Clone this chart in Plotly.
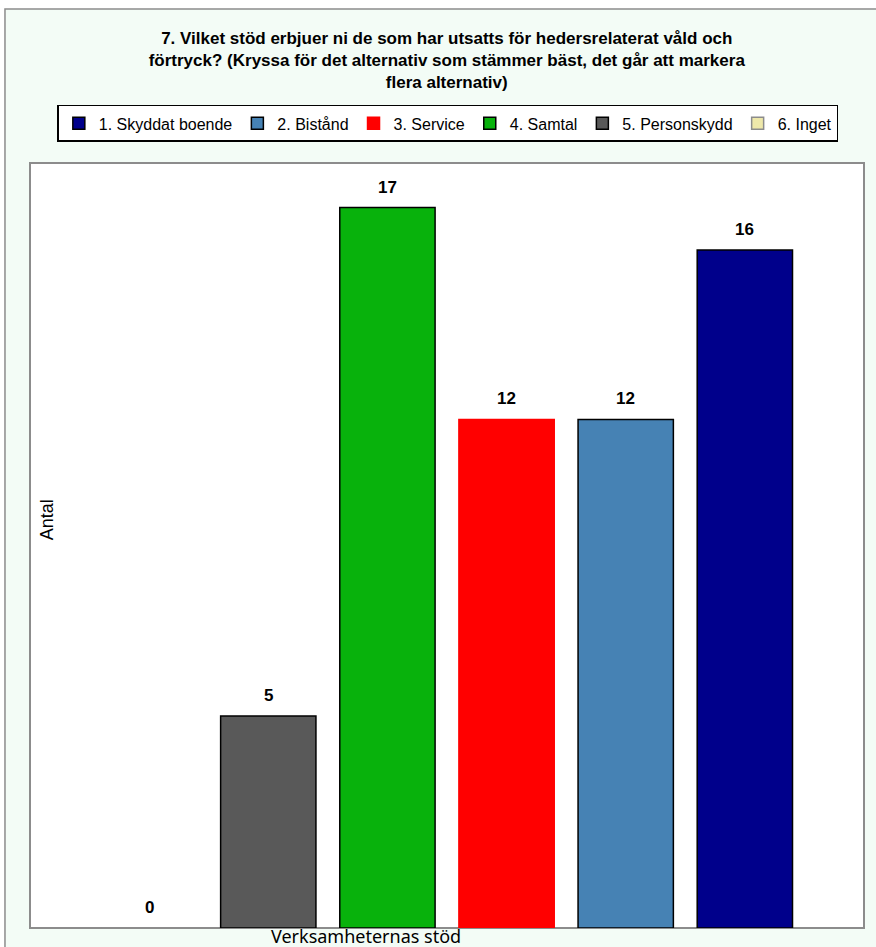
import plotly.graph_objects as go

# legend order (1..6) and bar order on the axis (6..1)
names = ["1. Skyddat boende", "2. Bistånd", "3. Service", "4. Samtal", "5. Personskydd", "6. Inget"]
values = [16, 12, 12, 17, 5, 0]
colors = ["#00008B", "#4682B4", "#FF0000", "#08B20C", "#595959", "#EEE8AA"]
outline = ["black", "black", "#FF0000", "black", "black", "#8C8C8C"]
bar_order = ["6. Inget", "5. Personskydd", "4. Samtal", "3. Service", "2. Bistånd", "1. Skyddat boende"]

title_text = ("<b>7. Vilket stöd erbjuer ni de som har utsatts för hedersrelaterat våld och<br>"
              "förtryck? (Kryssa för det alternativ som stämmer bäst, det går att markera<br>"
              "flera alternativ)</b>")

fig = go.Figure()
for name, val, col, lc in zip(names, values, colors, outline):
    fig.add_trace(go.Bar(
        x=[name], y=[val], name=name,
        marker=dict(color=col, line=dict(color=lc, width=1.5)),
        width=0.8,
    ))
    # value label above each bar
    fig.add_annotation(x=name, y=val, text=f"<b>{val}</b>", showarrow=False,
                       yanchor="bottom", yshift=9,
                       font=dict(family="Liberation Sans", size=17, color="black"))

# outer frame and white plot area
fig.add_shape(type="rect", xref="paper", yref="paper", x0=-0.030, x1=1.2, y0=-0.2, y1=1.2013,
              fillcolor="#F3FCF6", line=dict(color="#8C8C8C", width=1.5), layer="below")
fig.add_shape(type="rect", xref="paper", yref="paper", x0=0, x1=1, y0=0, y1=1,
              fillcolor="white", line=dict(color="#8C8C8C", width=2), layer="below")

fig.add_annotation(text="Antal", xref="paper", yref="paper", x=0.006, y=0.533,
                   textangle=-90, showarrow=False,
                   font=dict(family="Liberation Sans", size=18, color="black"))
fig.add_annotation(text="Verksamheternas stöd", xref="paper", yref="paper", x=0.286, y=0.0,
                   xanchor="left", yanchor="top", yshift=6, showarrow=False,
                   font=dict(family="Noto Sans", size=18, color="black"))

fig.update_layout(
    width=876, height=947,
    margin=dict(l=30, r=12, t=163, b=19),
    paper_bgcolor="white",
    plot_bgcolor="white",
    barmode="overlay",
    showlegend=True,
    title=dict(text=title_text, x=0.51, xanchor="center", y=0.954, yanchor="top",
               font=dict(family="Liberation Sans", size=17, color="black")),
    legend=dict(orientation="h", x=0.501, xanchor="center", y=1.076, yanchor="top",
                bordercolor="black", borderwidth=1.5, bgcolor="white",
                font=dict(family="Liberation Sans", size=16, color="black"),
                itemwidth=30, traceorder="normal"),
    xaxis=dict(categoryorder="array", categoryarray=bar_order, range=[-1, 6],
               showticklabels=False, showgrid=False, zeroline=False, ticks=""),
    yaxis=dict(range=[0, 18.05], showticklabels=False, showgrid=False, zeroline=False, ticks=""),
)

# the page body has a default 8px margin; drop it so the figure fills the window
fig.write_html("out.html", config={"displayModeBar": False},
               post_script="document.body.style.margin='0';")
